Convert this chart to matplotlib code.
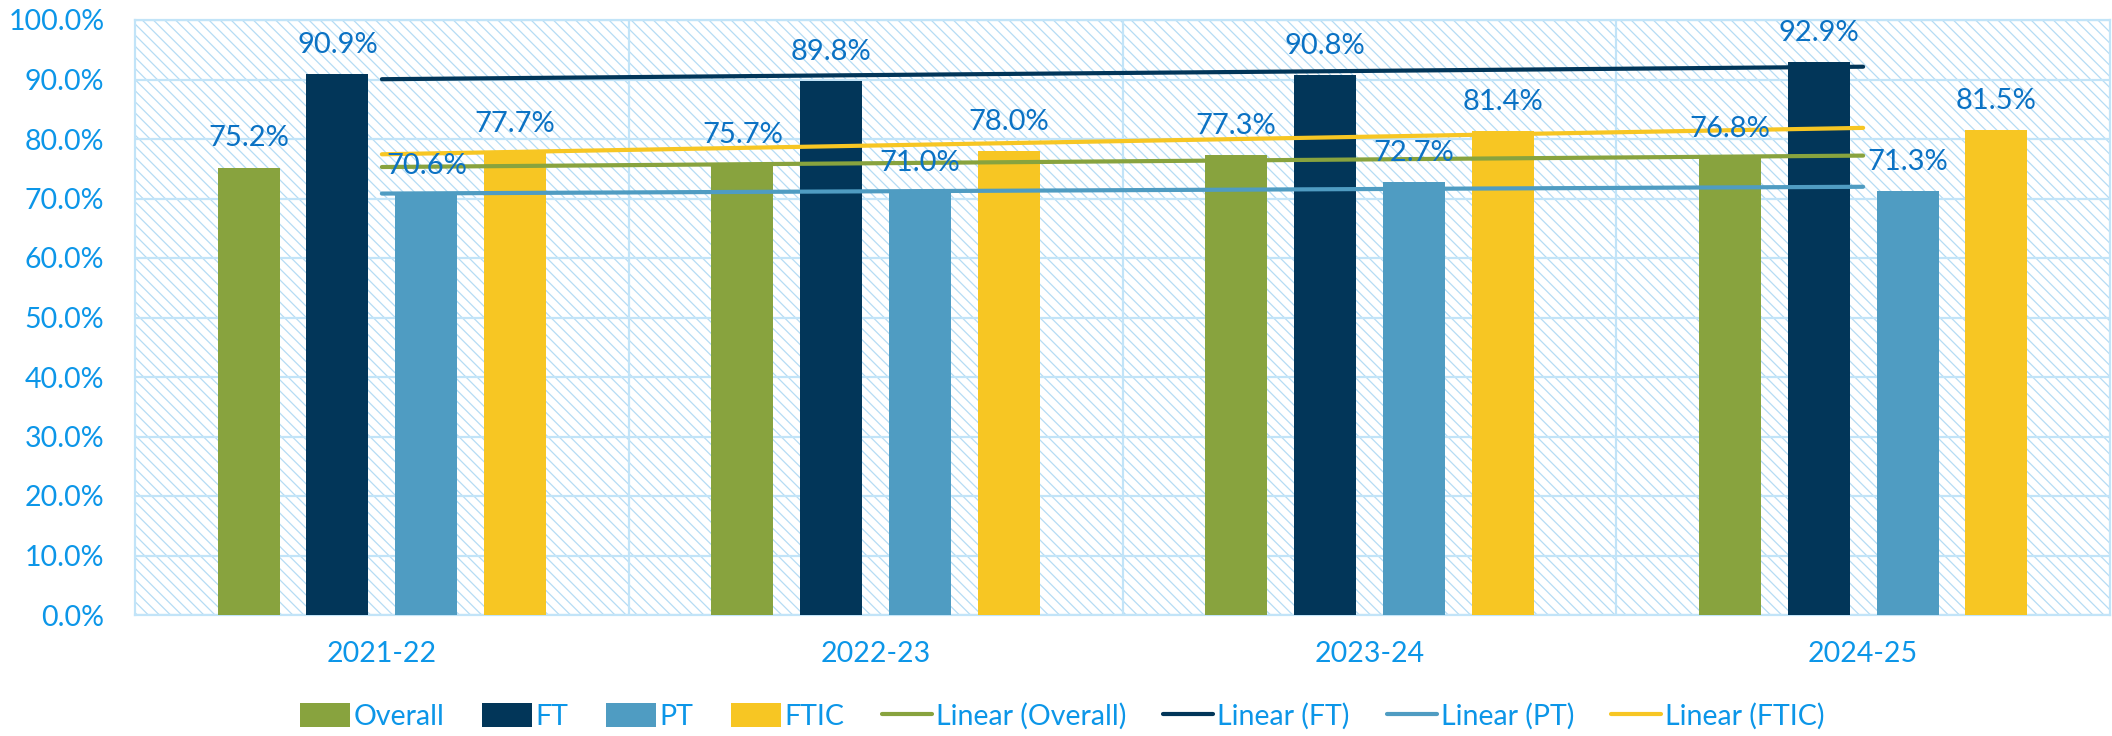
import numpy as np
import matplotlib
matplotlib.use("Agg")
import matplotlib.pyplot as plt
from matplotlib.patches import Rectangle
from matplotlib.lines import Line2D
from matplotlib.patches import Patch

categories = ["2021-22", "2022-23", "2023-24", "2024-25"]
series_names = ["Overall", "FT", "PT", "FTIC"]
overall = [75.2, 75.7, 77.3, 76.8]
ft = [90.9, 89.8, 90.8, 92.9]
pt = [70.6, 71.0, 72.7, 71.3]
ftic = [77.7, 78.0, 81.4, 81.5]
yticks = [0, 10, 20, 30, 40, 50, 60, 70, 80, 90, 100]

colors = ["#88a33e", "#023659", "#4f9cc2", "#f7c623"]
label_color = "#0b72c4"
tick_color = "#0c96e8"
grid_color = "#c2e4f8"

plt.rcParams['font.family'] = ['Lato', 'DejaVu Sans']
plt.rcParams['hatch.linewidth'] = 0.9

fig = plt.figure(figsize=(21.12, 7.36), dpi=100)
ax = fig.add_axes([135/2112, 1-615/736, (2110-135)/2112, (615-20)/736])

x = np.arange(len(categories))
data = [overall, ft, pt, ftic]
step = 0.180
width = 0.1255

# background hatch
bg = Rectangle((0, 0), 1, 1, transform=ax.transAxes, facecolor="white",
               edgecolor="#b5dcf4", hatch="\\\\\\", linewidth=0, zorder=0)
ax.add_patch(bg)
ax.patch.set_visible(False)

for yv in yticks:
    ax.axhline(yv, color=grid_color, lw=1.6, zorder=1)
for xb in [0.5, 1.5, 2.5]:
    ax.axvline(xb, color=grid_color, lw=1.6, zorder=1)

for i, (vals, c) in enumerate(zip(data, colors)):
    pos = x + (i - 1.5) * step
    ax.bar(pos, vals, width=width, color=c, zorder=2)

for i, (vals, c) in enumerate(zip(data, colors)):
    coef = np.polyfit(x, vals, 1)
    ax.plot(x, np.polyval(coef, x), color=c, lw=3.0, solid_capstyle='round', zorder=3)

for i, vals in enumerate(data):
    pos = x + (i - 1.5) * step
    for p, v in zip(pos, vals):
        ax.annotate(f"{v:.1f}%", (p, v), xytext=(0, 21), textcoords="offset points",
                    ha="center", va="center", fontsize=21, color=label_color, zorder=4)

ax.set_xlim(-0.5, 3.5)
ax.set_ylim(0, 100)
ax.set_yticks(yticks)
ax.set_yticklabels([f"{v:.1f}%" for v in yticks])
ax.set_xticks(x)
ax.set_xticklabels(categories)
ax.tick_params(axis='y', length=0, pad=22, labelsize=20.5, labelcolor=tick_color)
ax.tick_params(axis='x', length=0, pad=19, labelsize=20.5, labelcolor=tick_color)
for s in ax.spines.values():
    s.set_color(grid_color)
    s.set_linewidth(1.6)
    s.set_zorder(1)

handles = [Patch(facecolor=c, edgecolor='none') for c in colors] + \
          [Line2D([0], [0], color=c, lw=3.0, solid_capstyle='round') for c in colors]
labels = series_names + [f"Linear ({n})" for n in series_names]
leg = fig.legend(handles, labels, loc="center", bbox_to_anchor=(0.503, 0.027), ncol=8,
                 frameon=False, fontsize=20.5, handlelength=1.75, handleheight=0.95,
                 handletextpad=0.15, columnspacing=1.3, labelcolor=tick_color)

fig.savefig("out.png", dpi=100)
